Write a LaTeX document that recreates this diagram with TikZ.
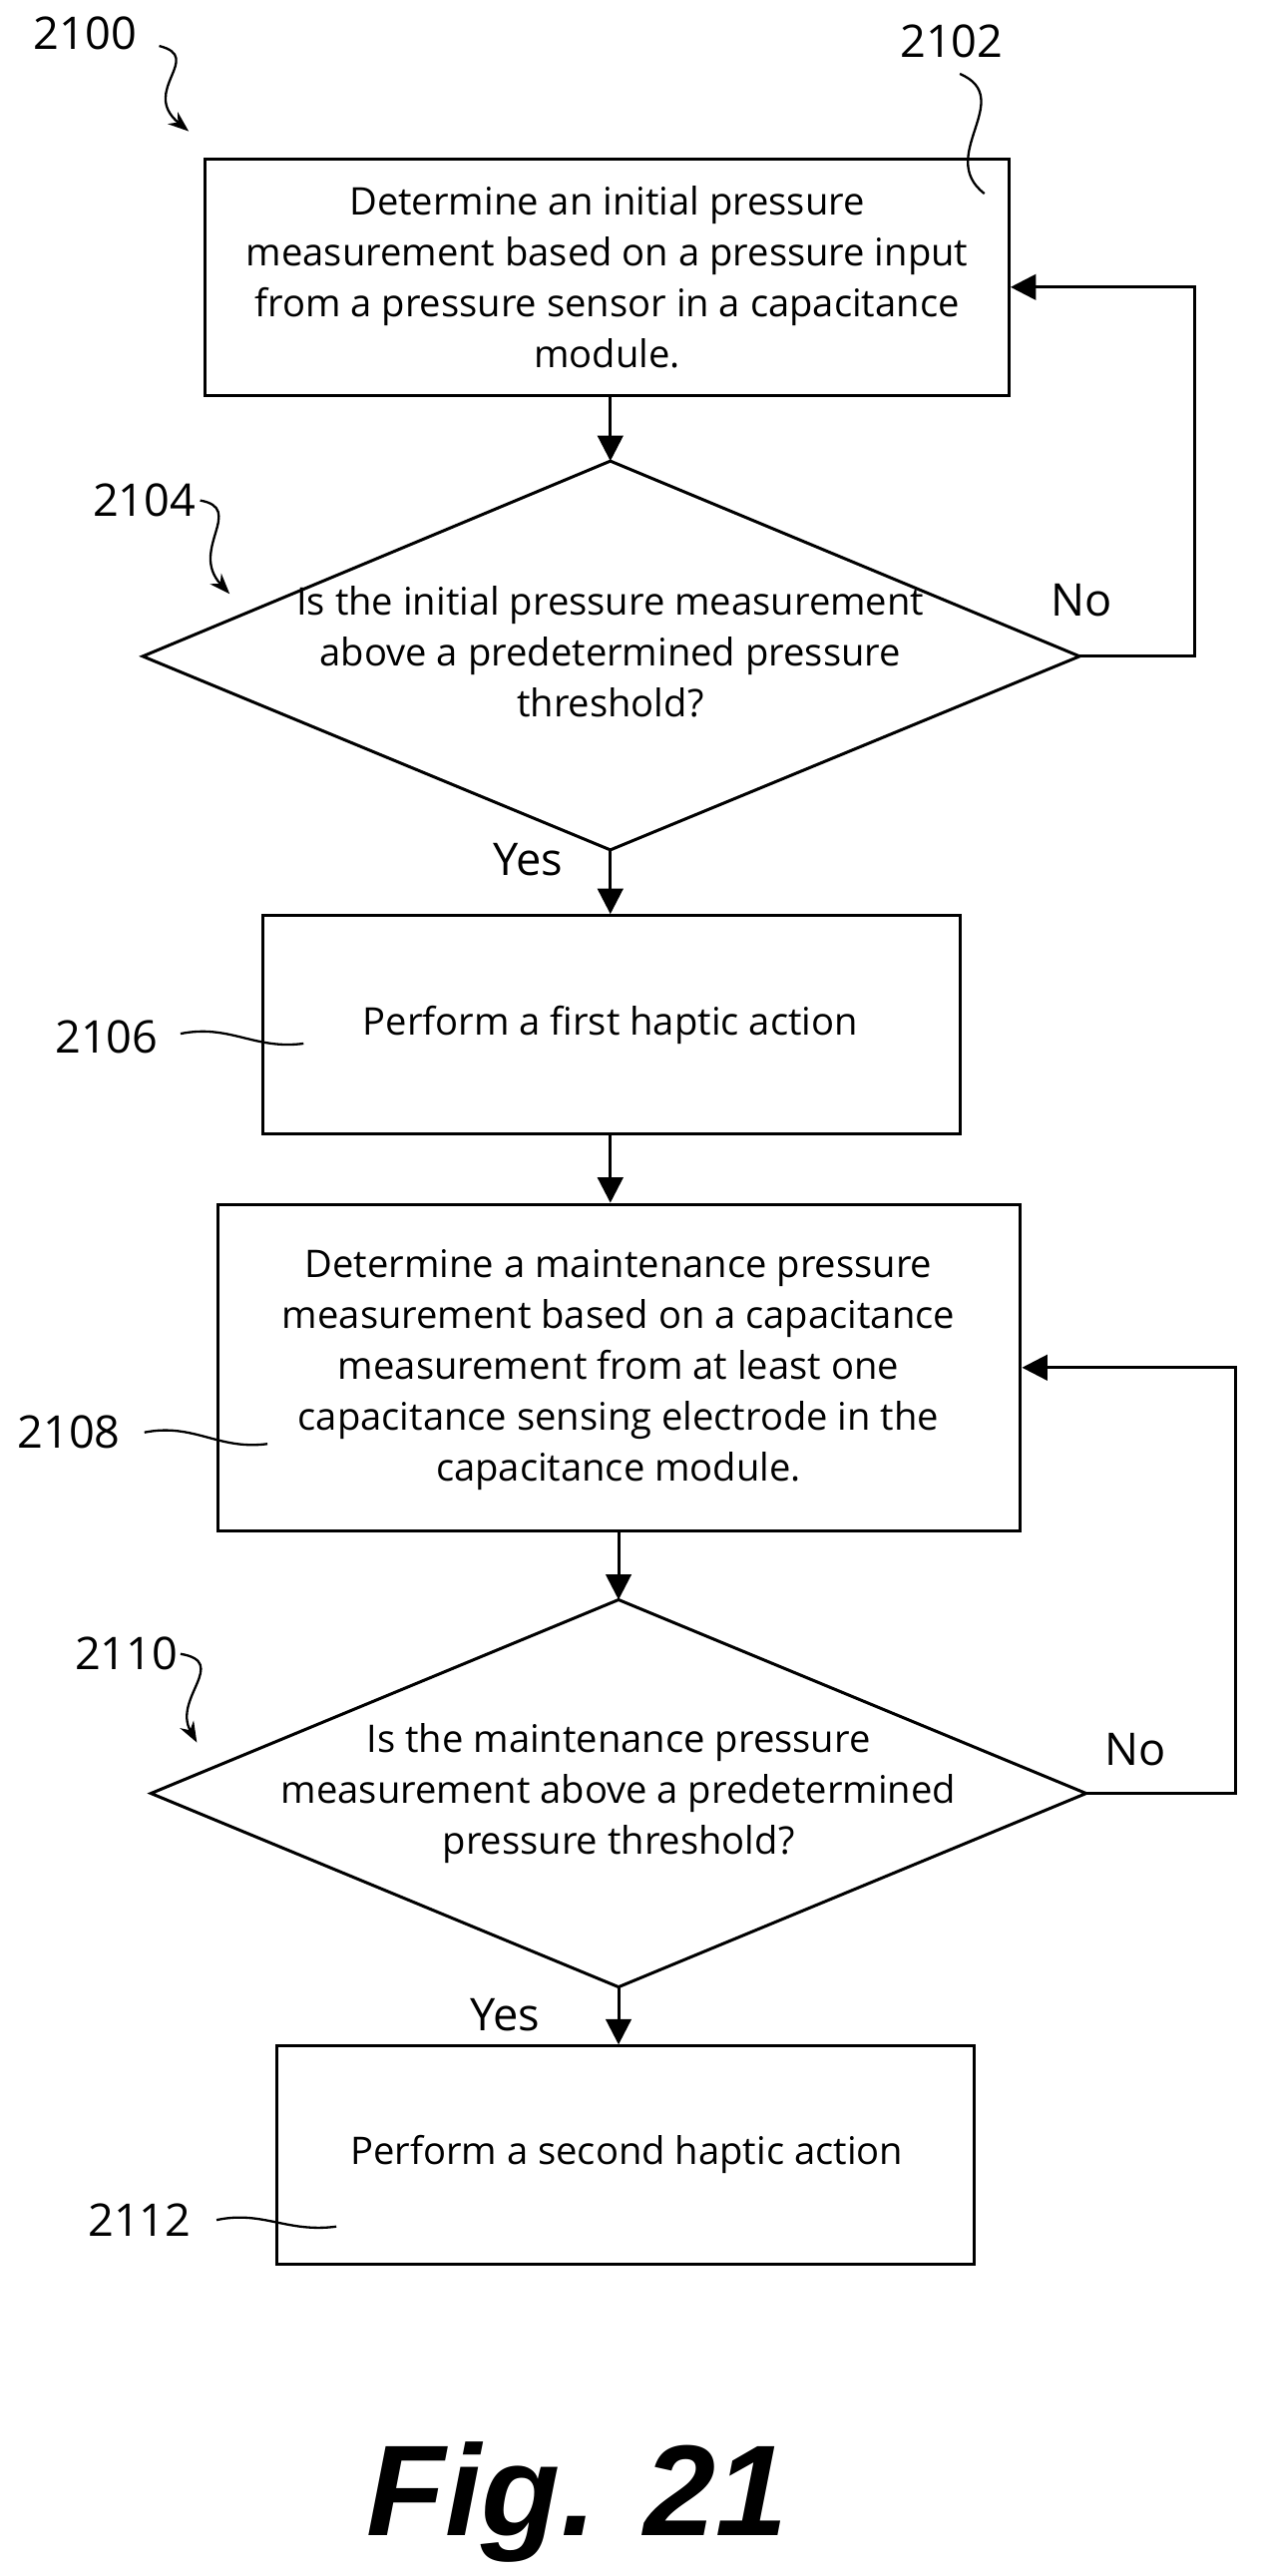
\documentclass[tikz,border=0pt]{standalone}
\usepackage{fontspec}
\setmainfont{Open Sans}
\usetikzlibrary{arrows.meta}
\tikzset{
  stepbox/.style={draw, line width=1.3pt, inner sep=0pt},
  say/.style={align=center, font=\fontsize{16.5}{22}\selectfont},
  ref/.style={font=\fontsize{19.5}{22}\selectfont},
  flow/.style={line width=1.3pt, -{Triangle[length=11pt,width=11pt]}},
  lead/.style={line width=1pt},
}
\begin{document}
\begin{tikzpicture}[x=0.025cm, y=-0.025cm]
    \useasboundingbox (0,0) rectangle (770,1570);
    % the first step box
    \node[stepbox, minimum width=490*0.025cm, minimum height=144*0.025cm] (s2102) at (370,169) {};
    \node[say] at (370,169) {Determine an initial pressure\\measurement based on a pressure input\\from a pressure sensor in a capacitance\\module.};
    % the first test
    \coordinate (d1t) at (372,281);
    \coordinate (d1l) at (87,400);
    \coordinate (d1r) at (658,400);
    \coordinate (d1b) at (372,518);
    \draw[line width=1.3pt] (d1t) -- (d1r) -- (d1b) -- (d1l) -- cycle;
    \node[say] (q2104) at (372,397) {Is the initial pressure measurement\\above a predetermined pressure\\threshold?};
    % the first haptic action
    \node[stepbox, minimum width=425*0.025cm, minimum height=133*0.025cm] (s2106) at (372.5,624.5) {};
    \node[say] at (372,625) {Perform a first haptic action};
    % the maintenance measurement
    \node[stepbox, minimum width=489*0.025cm, minimum height=199*0.025cm] (s2108) at (377.5,833.5) {};
    \node[say] at (377,835) {Determine a maintenance pressure\\measurement based on a capacitance\\measurement from at least one\\capacitance sensing electrode in the\\capacitance module.};
    % the second test
    \coordinate (d2t) at (377,975);
    \coordinate (d2l) at (92,1093);
    \coordinate (d2r) at (662,1093);
    \coordinate (d2b) at (377,1211);
    \draw[line width=1.3pt] (d2t) -- (d2r) -- (d2b) -- (d2l) -- cycle;
    \node[say] (q2110) at (377,1093) {Is the maintenance pressure\\measurement above a predetermined\\pressure threshold?};
    % the second haptic action
    \node[stepbox, minimum width=425*0.025cm, minimum height=133*0.025cm] (s2112) at (381.5,1313.5) {};
    \node[say] at (382,1313) {Perform a second haptic action};

    % arrows down the chart
    \draw[flow] (s2102.south -| d1t) -- (d1t);
    \draw[flow] (d1b) -- (s2106.north -| d1b);
    \draw[flow] (s2106.south -| d1b) -- (s2108.north -| d1b);
    \draw[flow] (s2108.south -| d2t) -- (d2t);
    \draw[flow] (d2b) -- (s2112.north -| d2b);
    % the No loops
    \coordinate (n1) at (728,400);
    \coordinate (n2) at (753,1093);
    \draw[flow] (d1r) -- (n1) |- ([yshift=-0.15cm]s2102.east);
    \draw[flow] (d2r) -- (n2) |- (s2108.east);
    \node[ref] (no1) at (659,366) {No};
    \node[ref] (yes1) at (322,524) {Yes};
    \node[ref] (no2) at (692,1066) {No};
    \node[ref] (yes2) at (308,1228) {Yes};

    % reference numerals
    \node[ref] (r2100) at (52,20) {2100};
    \draw[lead, -{Stealth[length=9pt]}] (97,28) .. controls (125,35) and (85,55) .. (115,80);
    \node[ref] (r2102) at (580,25) {2102};
    \draw[lead] (585,45) .. controls (620,60) and (570,95) .. (600,118);
    \node[ref] (r2104) at (88,305) {2104};
    \draw[lead, -{Stealth[length=9pt]}] (122,305) .. controls (150,310) and (115,335) .. (140,362);
    \node[ref] (r2106) at (65,632) {2106};
    \draw[lead] (110,630) .. controls (140,624) and (155,640) .. (185,636);
    \node[ref] (r2108) at (42,873) {2108};
    \draw[lead] (88,873) .. controls (118,867) and (133,884) .. (163,880);
    \node[ref] (r2110) at (77,1008) {2110};
    \draw[lead, -{Stealth[length=9pt]}] (110,1008) .. controls (140,1013) and (105,1035) .. (120,1062);
    \node[ref] (r2112) at (85,1353) {2112};
    \draw[lead] (132,1353) .. controls (160,1347) and (175,1361) .. (205,1357);

    % the figure title
    \node[font={\fontspec{Liberation Sans}\bfseries\itshape\fontsize{56}{62}\selectfont}] (fig) at (352,1525) {Fig. 21};
\end{tikzpicture}
\end{document}
